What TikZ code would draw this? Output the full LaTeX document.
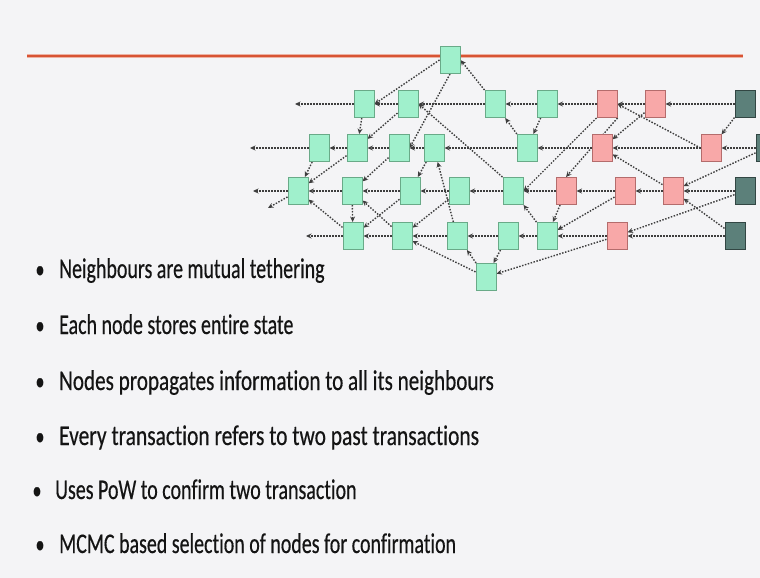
\documentclass[tikz,border=0pt]{standalone}
\usepackage{fontspec}
\setmainfont{Carlito}[FakeStretch=0.70, FakeBold=0.4, Ligatures=NoCommon]
\usetikzlibrary{arrows.meta}

\definecolor{slidebg}{RGB}{244,244,246}
\definecolor{rulecol}{RGB}{216,84,52}
\definecolor{mintfill}{RGB}{160,240,204}
\definecolor{mintdraw}{RGB}{105,170,136}
\definecolor{rosefill}{RGB}{248,168,168}
\definecolor{rosedraw}{RGB}{180,108,108}
\definecolor{tipfill}{RGB}{92,128,122}
\definecolor{tipdraw}{RGB}{50,70,67}
\definecolor{edgecol}{RGB}{62,62,62}
\definecolor{bodytext}{RGB}{20,20,20}

\pgfdeclarelayer{back}
\pgfdeclarelayer{links}
\pgfsetlayers{back,links,main}

\tikzset{
  tx/.style={draw, line width=1pt, minimum width=20pt, minimum height=27pt, inner sep=0pt},
  fresh/.style={tx, fill=mintfill, draw=mintdraw},
  pending/.style={tx, fill=rosefill, draw=rosedraw},
  tipnode/.style={tx, fill=tipfill, draw=tipdraw},
  ref/.style={draw=edgecol, line width=1.4pt, dash pattern=on 1.5pt off 1.5pt,
              -{Stealth[length=5.5pt,width=5pt]}},
  itemtext/.style={anchor=base west, inner sep=0pt, text=bodytext,
                   font=\fontsize{28.5}{32}\selectfont},
  itemdot/.style={anchor=base, inner sep=0pt, text=bodytext,
                  font=\fontsize{26}{30}\selectfont},
}

\begin{document}
\begin{tikzpicture}[x=1pt, y=-1pt]
  \useasboundingbox (0,0) rectangle (760,578);
  \begin{pgfonlayer}{back}
    \fill[slidebg] (0,0) rectangle (760,578);
    \draw[rulecol!45, line width=4pt] (27,56) -- (743,56);
    \draw[rulecol, line width=2.2pt] (27,56) -- (743,56);
  \end{pgfonlayer}
  \clip (0,0) rectangle (760,578);

  % genesis-side transaction on the rule
  \node[fresh] (T) at (450,60) {};

  % row 1
  \node[fresh]   (A1) at (364,104) {};
  \node[fresh]   (A2) at (408,104) {};
  \node[fresh]   (A3) at (495,104) {};
  \node[fresh]   (A4) at (547,104) {};
  \node[pending] (A5) at (607,104) {};
  \node[pending] (A6) at (655,104) {};
  \node[tipnode] (A7) at (745,104) {};

  % row 2
  \node[fresh]   (B1) at (319,148) {};
  \node[fresh]   (B2) at (357,148) {};
  \node[fresh]   (B3) at (399,148) {};
  \node[fresh]   (B4) at (434,148) {};
  \node[fresh]   (B5) at (527,148) {};
  \node[pending] (B6) at (602,148) {};
  \node[pending] (B7) at (711,148) {};
  \node[tipnode] (B8) at (766,148) {};

  % row 3
  \node[fresh]   (C1) at (298,191) {};
  \node[fresh]   (C2) at (352,191) {};
  \node[fresh]   (C3) at (410,191) {};
  \node[fresh]   (C4) at (459,191) {};
  \node[fresh]   (C5) at (513,191) {};
  \node[pending] (C6) at (566,191) {};
  \node[pending] (C7) at (625,191) {};
  \node[pending] (C8) at (673,191) {};
  \node[tipnode] (C9) at (745,191) {};

  % row 4
  \node[fresh]   (D1) at (353,236) {};
  \node[fresh]   (D2) at (402,236) {};
  \node[fresh]   (D3) at (457,236) {};
  \node[fresh]   (D4) at (508,236) {};
  \node[fresh]   (D5) at (547,236) {};
  \node[pending] (D6) at (617,236) {};
  \node[tipnode] (D7) at (735,236) {};

  % lowest transaction
  \node[fresh] (E) at (486,277) {};

  % open ends towards the past
  \coordinate (L1) at (295,104);
  \coordinate (L2) at (250,148);
  \coordinate (L3) at (253,191);
  \coordinate (L3b) at (268,208);
  \coordinate (L4) at (306,236);

  \begin{pgfonlayer}{links}
    % approvals along each row
    \draw[ref] (A1) -- (L1);
    \draw[ref] (A2) -- (A1);
    \draw[ref] (A3) -- (A2);
    \draw[ref] (A4) -- (A3);
    \draw[ref] (A5) -- (A4);
    \draw[ref] (A6) -- (A5);
    \draw[ref] (A7) -- (A6);

    \draw[ref] (B1) -- (L2);
    \draw[ref] (B2) -- (B1);
    \draw[ref] (B3) -- (B2);
    \draw[ref] (B4) -- (B3);
    \draw[ref] (B5) -- (B4);
    \draw[ref] (B6) -- (B5);
    \draw[ref] (B7) -- (B6);
    \draw[ref] (B8) -- (B7);

    \draw[ref] (C1) -- (L3);
    \draw[ref] (C1) -- (L3b);
    \draw[ref] (C2) -- (C1);
    \draw[ref] (C3) -- (C2);
    \draw[ref] (C4) -- (C3);
    \draw[ref] (C5) -- (C4);
    \draw[ref] (C6) -- (C5);
    \draw[ref] (C7) -- (C6);
    \draw[ref] (C8) -- (C7);
    \draw[ref] (C9) -- (C8);

    \draw[ref] (D1) -- (L4);
    \draw[ref] (D2) -- (D1);
    \draw[ref] (D3) -- (D2);
    \draw[ref] (D4) -- (D3);
    \draw[ref] (D5) -- (D4);
    \draw[ref] (D6) -- (D5);
    \draw[ref] (D7) -- (D6);

    % approvals across rows
    \draw[ref] (T.west) -- (A1.east);
    \draw[ref] (A3.north west) -- (T.east);
    \draw[ref] (T.south) -- (B3.east);
    \draw[ref] (A1) -- (B2);
    \draw[ref] (A2) -- (B2);
    \draw[ref] (C5.north west) -- (A2.east);
    \draw[ref] (B5) -- (A3);
    \draw[ref] (A4) -- (B5);
    \draw[ref] (A5.south west) -- (C5.east);
    \draw[ref] (A5.south east) -- (C6.north);
    \draw[ref] (B7.west) -- (A5.east);
    \draw[ref] (A7) -- (B7);
    \draw[ref] (A6) -- (B6);
    \draw[ref] (C8) -- (B6);
    \draw[ref] (B8) -- (C8);
    \draw[ref] (D7) -- (C8);
    \draw[ref] (C9) -- (D6);
    \draw[ref] (D6) -- (E);
    \draw[ref] (C7) -- (D5);
    \draw[ref] (C6) -- (D5);
    \draw[ref] (D5) -- (C5);
    \draw[ref] (D4) -- (E);
    \draw[ref] (E) -- (D3);
    \draw[ref] (E) -- (D2);
    \draw[ref] (D3) -- (B4);
    \draw[ref] (C4) -- (D2);
    \draw[ref] (B4) -- (C3);
    \draw[ref] (B3) -- (C2);
    \draw[ref] (B2) -- (C1);
    \draw[ref] (B1) -- (C1);
    \draw[ref] (D1) -- (C1);
    \draw[ref] (C2) -- (D1);
    \draw[ref] (C3) -- (D1);
    \draw[ref] (D2) -- (C2);
  \end{pgfonlayer}

  % bullet list
  \node[itemdot]  (b1) at (40,278) {•};
  \node[itemtext] (t1) at (59,278) {Neighbours are mutual tethering};
  \node[itemdot]  (b2) at (40,334) {•};
  \node[itemtext] (t2) at (59,334) {Each node stores entire state};
  \node[itemdot]  (b3) at (40,390) {•};
  \node[itemtext] (t3) at (59,390) {\scalebox{1.06}[1]{Nodes propagates information to all its neighbours}};
  \node[itemdot]  (b4) at (40,445) {•};
  \node[itemtext] (t4) at (59,445) {\scalebox{1.075}[1]{Every transaction refers to two past transactions}};
  \node[itemdot]  (b5) at (37,499) {•};
  \node[itemtext] (t5) at (55,499) {Uses PoW to confirm two transaction};
  \node[itemdot]  (b6) at (40,553) {•};
  \node[itemtext] (t6) at (59,553) {MCMC based selection of nodes for confirmation};
\end{tikzpicture}
\end{document}
